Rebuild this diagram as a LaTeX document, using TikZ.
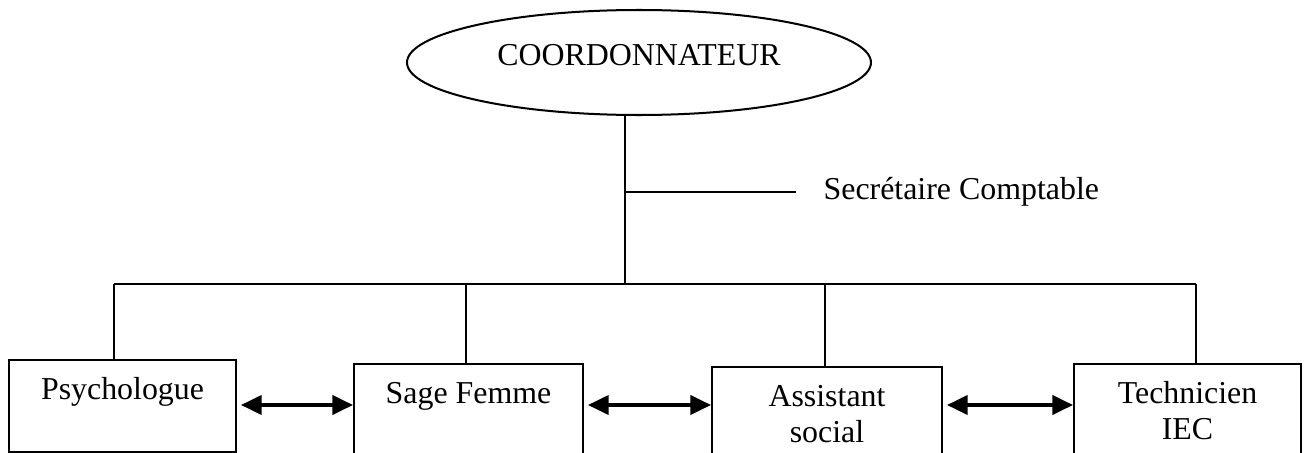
\documentclass[tikz,border=0pt]{standalone}
\usepackage{fontspec}
\setmainfont{Liberation Serif}
\usetikzlibrary{shapes.geometric,arrows.meta}
\tikzset{
    poste/.style={draw, black, line width=0.8pt, anchor=north west, inner sep=0pt, align=center, text height=5.46mm, text depth=8.5mm},
    poste double/.style={poste, text height=10.61mm, text depth=3.5mm},
    lien/.style={draw, black, line width=0.6pt},
    echange/.style={black, line width=1.3pt, {Triangle[length=2.9mm,width=2.7mm]}-{Triangle[length=2.9mm,width=2.7mm]}, shorten <=0.56mm}
}
\begin{document}
\begin{tikzpicture}[x=0.14mm, y=-0.14mm, font=\fontsize{12.7}{14.6}\selectfont]
        \clip (0,0) rectangle (1306,453);

        \node[draw, black, ellipse, line width=0.8pt, minimum width=64.96mm, minimum height=14.7mm, inner sep=0pt, text depth=2.1mm] (coord) at (639,62.5) {COORDONNATEUR};

        \node[poste, minimum width=31.78mm, text depth=7.42mm] (psy) at (8,359) {Psychologue};
        \node[poste, minimum width=32.06mm] (sage) at (353,363) {Sage Femme};
        \node[poste double, minimum width=32.2mm] (asst) at (711,366) {Assistant\\social};
        \node[poste double, minimum width=31.78mm] (tech) at (1073,363) {Technicien\\IEC};

        \coordinate (tronc) at (625,284);
        \coordinate (branche) at (625,192);
        \node[anchor=west, inner xsep=3.8mm, inner ysep=0pt] (secr) at (796,192) {Secrétaire Comptable};
        \draw [lien] (coord.south -| tronc) -- (tronc);
        \draw [lien] (branche) -- (secr.west);

        \coordinate (b1) at (114,284);
        \coordinate (b2) at (466,284);
        \coordinate (b3) at (825,284);
        \coordinate (b4) at (1196,284);
        \draw [lien] (b1) -- (b4);
        \foreach \b/\p in {b1/psy, b2/sage, b3/asst, b4/tech} {
            \draw [lien] (\b) -- (\b |- \p.north);
        }

        \coordinate (fleches) at (0,405);
        \foreach \g/\d in {psy/sage, sage/asst, asst/tech} {
            \draw [echange] (\g.east |- fleches) -- (\d.west |- fleches);
        }
    \end{tikzpicture}
\end{document}
